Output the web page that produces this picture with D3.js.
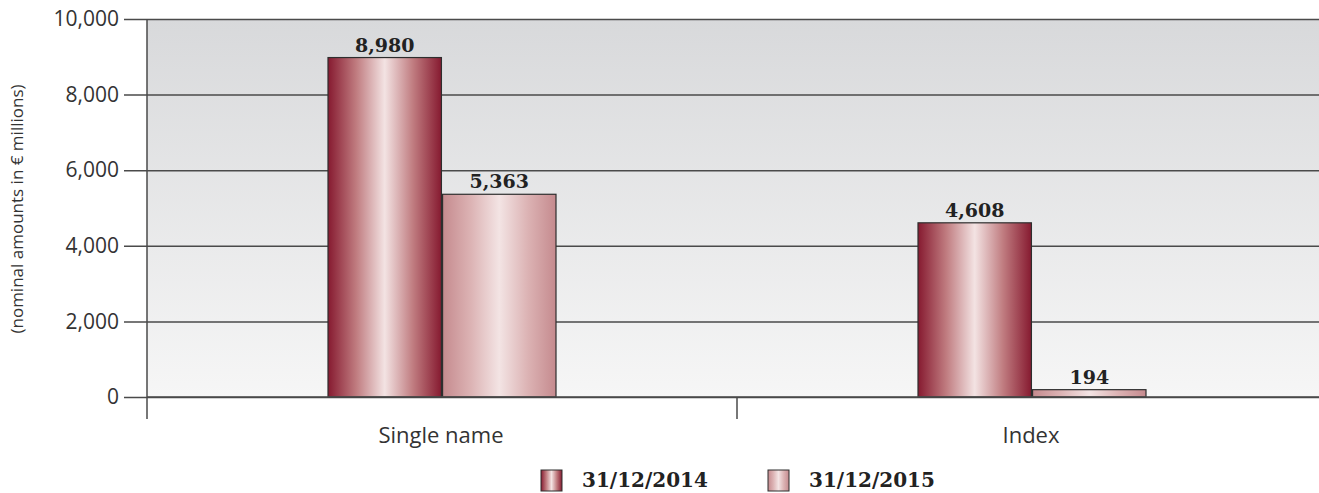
<!DOCTYPE html>
<html>
<head>
<meta charset="utf-8">
<script src="https://cdn.jsdelivr.net/npm/d3@7"></script>
<style>
  html, body { margin: 0; padding: 0; background: #fff; }
  svg { display: block; }
</style>
</head>
<body>
<svg id="chart" width="1319" height="493"></svg>
<script>
// Nominal amounts (EUR millions) by underlying type
const categories = ["Single name", "Index"];
const seriesNames = ["31/12/2014", "31/12/2015"];
const values2014 = [8980, 4608];
const values2015 = [5363, 194];
const yTicks = [0, 2000, 4000, 6000, 8000, 10000];

const svg = d3.select("#chart");
const W = 1319, H = 493;
const plot = { left: 147, right: 1327, top: 19, bottom: 397 };

const x = d3.scaleBand().domain(categories).range([plot.left, plot.right]).paddingInner(0).paddingOuter(0);
const xs = d3.scaleBand().domain(seriesNames).range([0, 228]).paddingInner(0.01);
const y = d3.scaleLinear().domain([0, 10000]).range([plot.bottom, plot.top]);

const defs = svg.append("defs");
const bg = defs.append("linearGradient").attr("id", "bg").attr("x1", 0).attr("y1", 0).attr("x2", 0).attr("y2", 1);
bg.append("stop").attr("offset", "0%").attr("stop-color", "#d8d9db");
bg.append("stop").attr("offset", "100%").attr("stop-color", "#f6f6f6");

function barGradient(id, edge, mid, center) {
  const g = defs.append("linearGradient").attr("id", id).attr("x1", 0).attr("x2", 1).attr("y1", 0).attr("y2", 0);
  g.append("stop").attr("offset", "0%").attr("stop-color", edge);
  g.append("stop").attr("offset", "25%").attr("stop-color", mid);
  g.append("stop").attr("offset", "50%").attr("stop-color", center);
  g.append("stop").attr("offset", "75%").attr("stop-color", mid);
  g.append("stop").attr("offset", "100%").attr("stop-color", edge);
}
barGradient("g2014", "#861a30", "#c07c80", "#f3e3e3");
barGradient("g2015", "#c58a8e", "#dcb3b4", "#f3e4e4");
const fills = { "31/12/2014": "url(#g2014)", "31/12/2015": "url(#g2015)" };

// plot background
svg.append("rect").attr("x", plot.left).attr("y", plot.top)
  .attr("width", W - plot.left).attr("height", plot.bottom - plot.top)
  .attr("fill", "url(#bg)");

// horizontal gridlines with tick marks
const yAxis = d3.axisLeft(y).tickValues(yTicks).tickSize(W - plot.left + 23)
  .tickFormat(d3.format(","));
const ya = svg.append("g").attr("transform", `translate(${W},0)`).call(yAxis);
ya.select(".domain").remove();
ya.selectAll(".tick line").attr("stroke", "#4a4a4a").attr("stroke-width", 1.5);
ya.selectAll(".tick text")
  .attr("x", -(W - plot.left + 28))
  .attr("font-family", "'Open Sans', sans-serif").attr("font-size", 21).attr("fill", "#333");

// left axis line
svg.append("line").attr("x1", plot.left).attr("x2", plot.left)
  .attr("y1", plot.top).attr("y2", 419).attr("stroke", "#4a4a4a").attr("stroke-width", 1.5);
// category separator tick
svg.append("line").attr("x1", x("Index")).attr("x2", x("Index"))
  .attr("y1", plot.bottom).attr("y2", 419).attr("stroke", "#4a4a4a").attr("stroke-width", 1.5);

// bars
const data = categories.flatMap((c, i) => [
  { cat: c, s: seriesNames[0], v: values2014[i] },
  { cat: c, s: seriesNames[1], v: values2015[i] }
]);
const groupOffset = (x.bandwidth() - 228) / 2;
const bars = svg.append("g");
bars.selectAll("rect").data(data).join("rect")
  .attr("x", d => x(d.cat) + groupOffset + xs(d.s))
  .attr("y", d => y(d.v))
  .attr("width", xs.bandwidth())
  .attr("height", d => y(0) - y(d.v))
  .attr("fill", d => fills[d.s])
  .attr("stroke", "#2e2e2e").attr("stroke-width", 1.2);

// baseline
svg.append("line").attr("x1", plot.left).attr("x2", W).attr("y1", y(0)).attr("y2", y(0))
  .attr("stroke", "#4a4a4a").attr("stroke-width", 1.5);

// value labels
bars.selectAll("text").data(data).join("text")
  .attr("x", d => x(d.cat) + groupOffset + xs(d.s) + xs.bandwidth() / 2)
  .attr("y", d => y(d.v) - 6)
  .attr("text-anchor", "middle")
  .attr("font-family", "'DejaVu Serif', serif").attr("font-weight", "bold")
  .attr("font-size", 19).attr("fill", "#222")
  .text(d => d3.format(",")(d.v));

// category labels
svg.selectAll("text.cat").data(categories).join("text").attr("class", "cat")
  .attr("x", d => x(d) + x.bandwidth() / 2 - 1)
  .attr("y", 443)
  .attr("text-anchor", "middle")
  .attr("font-family", "'Open Sans', sans-serif").attr("font-size", 22).attr("fill", "#333")
  .text(d => d);

// y-axis title
svg.append("text")
  .attr("transform", "translate(23,209) rotate(-90)")
  .attr("text-anchor", "middle")
  .attr("font-family", "'Open Sans', sans-serif").attr("font-size", 17).attr("fill", "#333")
  .text("(nominal amounts in € millions)");

// legend
const legendX = [541, 768];
const leg = svg.append("g");
seriesNames.forEach((s, i) => {
  leg.append("rect").attr("x", legendX[i]).attr("y", 470).attr("width", 21).attr("height", 21)
    .attr("fill", fills[s]).attr("stroke", "#2e2e2e").attr("stroke-width", 1);
  leg.append("text").attr("x", legendX[i] + 41).attr("y", 487)
    .attr("font-family", "'DejaVu Serif', serif").attr("font-weight", "bold")
    .attr("font-size", 20).attr("fill", "#222").text(s);
});
</script>
</body>
</html>
